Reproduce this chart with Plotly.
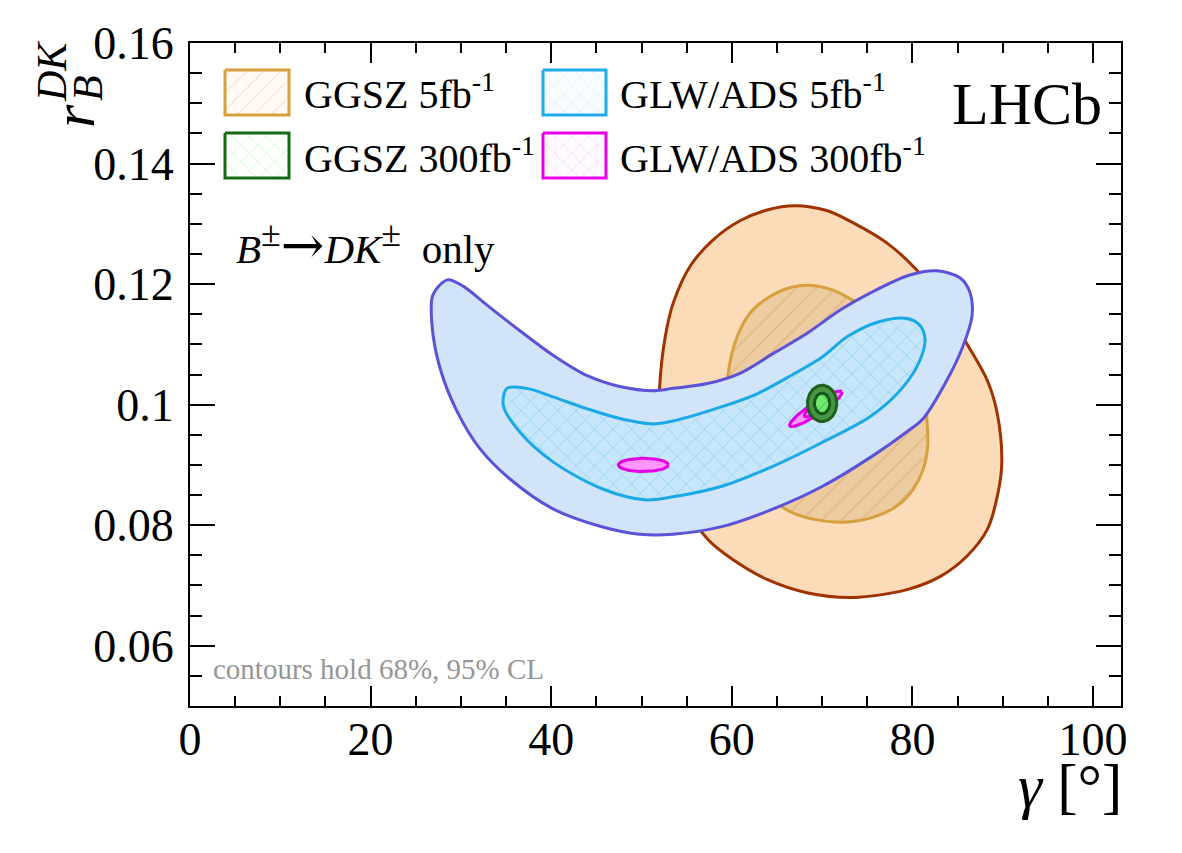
import numpy as np
import plotly.graph_objects as go

# ---------------- data ----------------
# GGSZ 5 fb-1, 95% CL contour
ggsz5_95_gamma = [67.0, 70.5, 73.4, 77.2, 80.5, 83.4, 86.0, 88.3, 89.4, 89.9, 89.5, 88.3, 86.0, 83.1,
                  79.4, 73.4, 68.3, 63.9, 60.1, 57.3, 54.8, 52.9, 52.0, 52.0, 52.6, 53.5, 55.4, 57.9,
                  60.9, 63.9, 67.0]
ggsz5_95_r = [0.1330, 0.1322, 0.1302, 0.1268, 0.1223, 0.1168, 0.1102, 0.1040, 0.0985, 0.0905, 0.0855,
              0.0793, 0.0748, 0.0715, 0.0693, 0.0680, 0.0688, 0.0710, 0.0743, 0.0777, 0.0835, 0.0918,
              0.0993, 0.1027, 0.1110, 0.1168, 0.1230, 0.1273, 0.1305, 0.1323, 0.1330]
# GGSZ 5 fb-1, 68% CL contour
ggsz5_68_gamma = [68.3, 71.2, 73.4, 77.0, 79.7, 81.4, 81.6, 81.7, 81.2, 80.1, 78.3, 75.6, 72.3, 69.0,
                  66.4, 63.7, 61.5, 60.0, 59.5, 59.6, 60.6, 62.3, 65.3, 68.3]
ggsz5_68_r = [0.1198, 0.1190, 0.1173, 0.1135, 0.1077, 0.1018, 0.0977, 0.0932, 0.0893, 0.0860, 0.0832,
              0.0813, 0.0805, 0.0810, 0.0823, 0.0852, 0.0893, 0.0960, 0.1010, 0.1052, 0.1113, 0.1157,
              0.1188, 0.1198]
# GLW/ADS 5 fb-1, 95% CL contour
glw5_95_gamma = [28.5, 30.2, 32.9, 36.5, 40.2, 44.0, 47.6, 51.3, 53.5, 57.3, 60.9, 64.6, 68.3, 72.0,
                 75.3, 79.7, 82.7, 85.3, 86.4, 86.6, 85.6, 83.8, 81.2, 79.4, 75.6, 70.1, 64.6, 59.0,
                 53.5, 49.8, 45.7, 40.2, 35.4, 32.1, 29.6, 27.7, 26.8, 26.9, 28.5]
glw5_95_r = [0.1207, 0.1197, 0.1165, 0.1123, 0.1082, 0.1048, 0.1030, 0.1023, 0.1027, 0.1035, 0.1052,
             0.1085, 0.1118, 0.1157, 0.1185, 0.1215, 0.1222, 0.1210, 0.1185, 0.1147, 0.1097, 0.1040,
             0.0977, 0.0955, 0.0915, 0.0865, 0.0827, 0.0798, 0.0785, 0.0785, 0.0797, 0.0827, 0.0877,
             0.0927, 0.0988, 0.1060, 0.1132, 0.1182, 0.1207]
# GLW/ADS 5 fb-1, 68% CL contour
glw5_68_gamma = [35.1, 37.3, 40.2, 44.0, 47.6, 51.3, 53.5, 59.0, 62.8, 66.4, 70.1, 72.8, 76.4, 79.4,
                 80.8, 81.4, 80.5, 78.3, 75.3, 70.1, 64.6, 59.0, 53.5, 50.4, 45.7, 40.2, 36.5, 34.7, 35.1]
glw5_68_r = [0.1027, 0.1027, 0.1013, 0.0993, 0.0977, 0.0968, 0.0973, 0.0997, 0.1018, 0.1047, 0.1080,
             0.1113, 0.1138, 0.1143, 0.1132, 0.1107, 0.1063, 0.1018, 0.0980, 0.0938, 0.0898, 0.0865,
             0.0847, 0.0842, 0.0860, 0.0905, 0.0955, 0.0998, 0.1027]
# Small 300 fb-1 contours: centre (gamma, r), semi-axis vectors (dgamma, dr)
glw300_low = dict(c=(50.2, 0.0900), a=(2.77, 0.0), b=(0.0, 0.0011))
glw300_high_95 = dict(c=(69.3, 0.0993), a=(2.88, 0.00283), b=(0.365, -0.00084))
glw300_high_68 = dict(c=(69.6, 0.0996), a=(1.55, 0.00152), b=(0.26, -0.0006))
ggsz300_95 = dict(c=(70.0, 0.1002), a=(1.62, 0.0002), b=(-0.1, 0.0030))
ggsz300_68 = dict(c=(70.0, 0.1002), a=(0.85, 0.0001), b=(-0.05, 0.0017))

x_ticks = [0, 20, 40, 60, 80, 100]
y_ticks = [0.06, 0.08, 0.10, 0.12, 0.14, 0.16]
y_ticktext = ["0.06", "0.08", "0.1", "0.12", "0.14", "0.16"]

legend_labels = ["GGSZ 5fb<sup>-1</sup>", "GLW/ADS 5fb<sup>-1</sup>",
                 "GGSZ 300fb<sup>-1</sup>", "GLW/ADS 300fb<sup>-1</sup>"]

# ---------------- styling ----------------
FONT = "Liberation Serif, Times New Roman, serif"
W, H = 1182, 853
L, R, T, B = 190, 1121, 43, 706


def px2paper(x, y):
    return (x - L) / (R - L), 1 - (y - T) / (B - T)


def ellipse(p, n=120):
    t = np.linspace(0, 2 * np.pi, n)
    cx, cy = p["c"]
    return (cx + p["a"][0] * np.cos(t) + p["b"][0] * np.sin(t),
            cy + p["a"][1] * np.cos(t) + p["b"][1] * np.sin(t))


fig = go.Figure()


def contour(x, y, line, fill, pattern=None, width=3, spline=True):
    kw = dict(x=x, y=y, mode="lines", fill="toself", fillcolor=fill,
              line=dict(color=line, width=width, shape="spline" if spline else "linear", smoothing=0.9),
              hoverinfo="skip", showlegend=False)
    if pattern:
        kw["fillpattern"] = pattern
    fig.add_trace(go.Scatter(**kw))


contour(ggsz5_95_gamma, ggsz5_95_r, "rgb(160,50,0)", "rgb(252,220,184)")
contour(ggsz5_68_gamma, ggsz5_68_r, "rgb(214,160,62)", "rgb(236,204,160)",
        pattern=dict(shape="/", bgcolor="rgb(236,204,160)", fgcolor="rgb(214,168,100)", size=14, solidity=0.12))
contour(glw5_95_gamma, glw5_95_r, "rgb(92,82,216)", "rgb(210,228,250)")
contour(glw5_68_gamma, glw5_68_r, "rgb(25,170,230)", "rgb(200,230,250)",
        pattern=dict(shape="x", bgcolor="rgb(200,230,250)", fgcolor="rgb(70,180,230)", size=13, solidity=0.1))

for p in (glw300_low, glw300_high_95, glw300_high_68):
    ex, ey = ellipse(p)
    contour(ex, ey, "rgb(225,0,225)", "rgb(255,150,255)", spline=False)

ex, ey = ellipse(ggsz300_95)
contour(ex, ey, "rgb(30,95,30)", "rgb(70,150,70)", spline=False)
ex, ey = ellipse(ggsz300_68)
contour(ex, ey, "rgb(20,90,20)", "rgb(110,235,110)", spline=False,
        pattern=dict(shape="x", bgcolor="rgb(110,235,110)", fgcolor="rgb(40,120,40)", size=22, solidity=0.08))

# ---------------- legend (drawn manually, paper-fraction overlay axes) ----------------
leg_boxes_px = [(225, 70, 289, 115), (543, 70, 606, 115), (225, 133, 289, 178), (543, 133, 606, 178)]
leg_styles = [
    ("rgb(215,160,60)", dict(shape="/", bgcolor="rgb(255,250,244)", fgcolor="rgb(238,205,170)", size=12, solidity=0.1)),
    ("rgb(30,172,235)", dict(shape="x", bgcolor="rgb(248,252,255)", fgcolor="rgb(180,222,245)", size=12, solidity=0.1)),
    ("rgb(20,105,20)", dict(shape="x", bgcolor="rgb(255,255,255)", fgcolor="rgb(120,240,120)", size=12, solidity=0.1)),
    ("rgb(232,0,232)", dict(shape="x", bgcolor="rgb(255,252,255)", fgcolor="rgb(245,150,245)", size=12, solidity=0.1)),
]
for (x0, y0, x1, y1), (lc, pat) in zip(leg_boxes_px, leg_styles):
    a0, b0 = px2paper(x0, y0)
    a1, b1 = px2paper(x1, y1)
    fig.add_trace(go.Scatter(x=[a0, a1, a1, a0, a0], y=[b0, b0, b1, b1, b0], xaxis="x2", yaxis="y2",
                             mode="lines", fill="toself", fillcolor=pat["bgcolor"], fillpattern=pat,
                             line=dict(color=lc, width=3), hoverinfo="skip", showlegend=False))

annotations = []
leg_text_pos = [(302, 92), (618, 92), (302, 155), (618, 155)]
for (tx, ty), lab in zip(leg_text_pos, legend_labels):
    ax_, ay_ = px2paper(tx, ty)
    annotations.append(dict(x=ax_, y=ay_, xref="paper", yref="paper", text=lab, showarrow=False,
                            xanchor="left", yanchor="middle", font=dict(family=FONT, size=40, color="black")))

def add_text(text, x, y, size, xanchor="left", color="black", angle=0):
    ax_, ay_ = px2paper(x, y)
    annotations.append(dict(x=ax_, y=ay_, xref="paper", yref="paper", text=text, showarrow=False,
                            xanchor=xanchor, yanchor="middle", textangle=angle,
                            font=dict(family=FONT, size=size, color=color)))

add_text("LHCb", 1104, 104, 60, xanchor="right")
add_text("<i>B</i><sup><span style=\"font-size:36px\">±</span></sup>"
         "<span style=\"font-family:'DejaVu Serif';font-size:52px\">→</span>"
         "<i>DK</i><sup><span style=\"font-size:36px\">±</span></sup> &nbsp;only", 234, 244, 41)
add_text("contours hold 68%, 95% CL", 211, 669, 29, color="rgb(150,150,150)")
add_text("<i>γ</i> [°]", 1124, 786, 61, xanchor="right")
# y-axis title r_B^DK (rotated)
add_text("<i>r</i>", 74, 116, 60, xanchor="center", angle=-90)
add_text("<i>DK</i>", 52, 72, 42, xanchor="center", angle=-90)
add_text("<i>B</i>", 88, 88, 42, xanchor="center", angle=-90)

axis_common = dict(showline=True, linecolor="black", linewidth=2, mirror="allticks", ticks="inside",
                   tickcolor="black", tickwidth=2, showgrid=False, zeroline=False,
                   tickfont=dict(family=FONT, size=46, color="black"))

fig.update_layout(
    width=W, height=H, margin=dict(l=L, r=W - R, t=T, b=H - B),
    paper_bgcolor="white", plot_bgcolor="white", showlegend=False,
    xaxis=dict(range=[0, 103.1], tickvals=x_ticks, ticklen=20, ticklabelstandoff=-8,
               minor=dict(ticks="inside", ticklen=10, dtick=5, tickcolor="black", tickwidth=2),
               **axis_common),
    yaxis=dict(range=[0.05, 0.16], tickvals=y_ticks, ticktext=y_ticktext, ticklen=25, ticklabelstandoff=5,
               minor=dict(ticks="inside", ticklen=12, dtick=0.005, tickcolor="black", tickwidth=2),
               **axis_common),
    xaxis2=dict(domain=[0, 1], range=[0, 1], overlaying="x", visible=False, fixedrange=True),
    yaxis2=dict(domain=[0, 1], range=[0, 1], overlaying="y", visible=False, fixedrange=True),
    annotations=annotations,
)

fig.write_html("out.html", config={"displayModeBar": False})
